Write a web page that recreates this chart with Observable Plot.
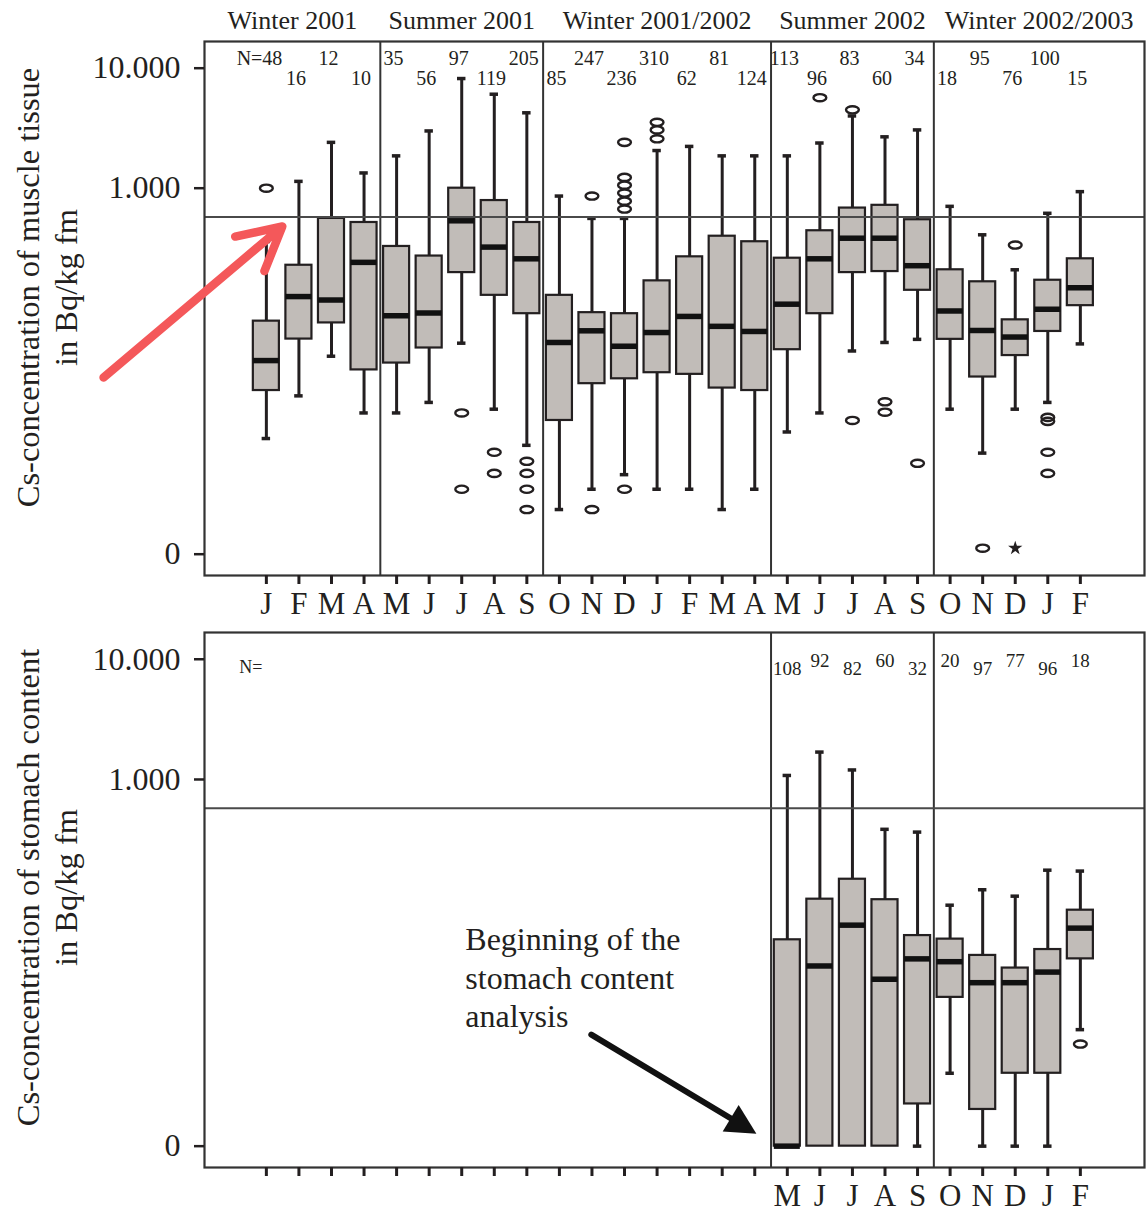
<!DOCTYPE html>
<html><head><meta charset="utf-8">
<script src="https://cdn.jsdelivr.net/npm/d3@7"></script>
<script src="https://cdn.jsdelivr.net/npm/@observablehq/plot@0.6"></script>
<style>
body{margin:0;background:#fff;}
#chart{width:1148px;}
#chart svg{display:block;overflow:visible;}
</style></head><body><div id="chart"></div>
<script>
// ---------------- data ----------------
const months = ["J","F","M","A","M","J","J","A","S","O","N","D","J","F","M","A","M","J","J","A","S","O","N","D","J","F"];
const seasonNames = ["Winter 2001","Summer 2001","Winter 2001/2002","Summer 2002","Winter 2002/2003"];
const seasonFirst = [0,4,9,16,21];
const seasonLast  = [3,8,15,20,25];

// muscle tissue (Bq/kg fm), one box per month
const muscleN      = [48,16,12,10,35,56,97,119,205,85,247,236,310,62,81,124,113,96,83,60,34,18,95,76,100,15];
const muscleLow    = [0.0082,0.0186,0.0398,0.0134,0.0134,0.0164,0.0511,0.0144,0.0072,0.0021,0.0031,0.0041,0.0031,0.0031,0.0021,0.0031,0.0093,0.0134,0.044,0.0518,0.055,0.0144,0.0062,0.0144,0.0164,0.0504];
const muscleQ1     = [0.0206,0.0553,0.0754,0.0306,0.0349,0.0466,0.198,0.128,0.09,0.0116,0.0235,0.0258,0.029,0.0281,0.0216,0.0206,0.0451,0.09,0.198,0.202,0.141,0.055,0.0267,0.0403,0.064,0.105];
const muscleMedian = [0.0366,0.125,0.117,0.241,0.0865,0.0912,0.535,0.323,0.258,0.0518,0.0648,0.0482,0.0627,0.0854,0.0706,0.064,0.108,0.258,0.383,0.383,0.226,0.0948,0.0652,0.0575,0.098,0.148];
const muscleQ3     = [0.078,0.228,0.56,0.518,0.327,0.272,1.0,0.789,0.518,0.128,0.0918,0.09,0.169,0.268,0.398,0.358,0.261,0.442,0.683,0.72,0.546,0.209,0.166,0.08,0.171,0.258];
const muscleHigh   = [0.36,1.14,2.41,1.34,1.86,3.0,8.2,6.07,4.25,0.86,0.56,0.56,2.06,2.23,1.86,1.86,1.86,2.38,4.0,2.68,3.06,0.706,0.409,0.209,0.618,0.936];
const muscleOutlierMonth = [0,6,6,7,7,8,8,8,8,10,10,11,11,11,11,11,11,11,12,12,12,17,18,18,19,19,20,22,23,24,24,24,24];
const muscleOutlierValue = [1.0,0.0134,0.0031,0.0063,0.0042,0.0053,0.0042,0.0031,0.0021,0.86,0.0021,2.41,1.23,1.06,0.91,0.78,0.67,0.0031,3.54,3.06,2.58,5.68,4.5,0.0116,0.0166,0.0136,0.0051,0.001,0.336,0.0123,0.0114,0.0063,0.0042];
const muscleExtremeMonth = [23];
const muscleExtremeValue = [0.001];

// stomach content (Bq/kg fm), analysed from May 2002 on
const stomachMonth  = [16,17,18,19,20,21,22,23,24,25];
const stomachN      = [108,92,82,60,32,20,97,77,96,18];
const stomachLow    = [0,0,0,0,0,0.0036,0,0,0,0.0083];
const stomachQ1     = [0,0,0,0,0.002,0.0154,0.0018,0.0036,0.0036,0.0322];
const stomachMedian = [0,0.0281,0.0614,0.0218,0.0322,0.0305,0.0204,0.0204,0.025,0.058];
const stomachQ3     = [0.0464,0.101,0.148,0.1,0.0503,0.047,0.0344,0.027,0.0385,0.0818];
const stomachHigh   = [1.08,1.69,1.2,0.385,0.365,0.09,0.121,0.107,0.176,0.173];
const stomachOutlierMonth = [25];
const stomachOutlierValue = [0.0063];

const limitValue = 0.575;                 // horizontal reference line
const yTickValues = [0, 1, 10];
const yTickLabels = ["0", "1.000", "10.000"];
const zeroFloor = Math.pow(10, -3.05);    // where "0" sits on the log axis

// annotations (month index, concentration)
const redArrow   = {x1: -5.0, y1: 0.0265, x2: 0.49, y2: 0.48};
const blackArrow = {x1: 9.98, y1: 0.00755, x2: 15.05, y2: 0.00113};
const noteText = "Beginning of the\nstomach content\nanalysis";
const notePos = {x: 6.11, y: 0.023};

// ---------------- helpers ----------------
const pos = v => (v <= 0 ? zeroFloor : v);
const ink = "#231f20";
const boxFill = "#c1bcb8";
const font = "'Liberation Serif','Times New Roman',serif";
const xDomain = [-1.9, 26.97];
const yDomain = [Math.pow(10, -3.2275), Math.pow(10, 1.2225)];
const dividers = [3.5, 8.5, 15.5, 20.5];
const bounds = [xDomain[0], ...dividers, xDomain[1]];
const seasonRows = seasonNames.map((name, k) => ({name, c: (bounds[k] + bounds[k + 1]) / 2}));
const yTickRows = yTickValues.map((v, k) => ({y: pos(v), label: yTickLabels[k]}));

const ellipse = {draw(ctx) {
  const rx = 6.4, ry = 3.6, k = 0.5523;
  ctx.moveTo(rx, 0);
  ctx.bezierCurveTo(rx, ry * k, rx * k, ry, 0, ry);
  ctx.bezierCurveTo(-rx * k, ry, -rx, ry * k, -rx, 0);
  ctx.bezierCurveTo(-rx, -ry * k, -rx * k, -ry, 0, -ry);
  ctx.bezierCurveTo(rx * k, -ry, rx, -ry * k, rx, 0);
  ctx.closePath();
}};
const headAngle = 31 * Math.PI / 180;
const triHead = {draw(ctx) {
  const L = 30, W = 31, ux = Math.cos(headAngle), uy = Math.sin(headAngle);
  const bx = -L * ux, by = -L * uy;
  ctx.moveTo(0, 0);
  ctx.lineTo(bx - uy * W / 2, by + ux * W / 2);
  ctx.lineTo(bx + uy * W / 2, by - ux * W / 2);
  ctx.closePath();
}};

function makeRows(idx, n, low, q1, med, q3, high) {
  return idx.map((i, k) => ({i, n: n[k], low: pos(low[k]), q1: pos(q1[k]), med: pos(med[k]), q3: pos(q3[k]), high: pos(high[k])}));
}
function boxMarks(rows, outliers, extremes) {
  const hw = 0.4, cw = 0.13;
  return [
    Plot.ruleX(rows.filter(d => d.high > d.q3), {x: "i", y1: "q3", y2: "high", stroke: ink, strokeWidth: 3}),
    Plot.ruleX(rows.filter(d => d.low < d.q1), {x: "i", y1: "low", y2: "q1", stroke: ink, strokeWidth: 3}),
    Plot.ruleY(rows.filter(d => d.high > d.q3), {y: "high", x1: d => d.i - cw, x2: d => d.i + cw, stroke: ink, strokeWidth: 3.5}),
    Plot.ruleY(rows.filter(d => d.low < d.q1), {y: "low", x1: d => d.i - cw, x2: d => d.i + cw, stroke: ink, strokeWidth: 3.5}),
    Plot.rect(rows, {x1: d => d.i - hw, x2: d => d.i + hw, y1: "q1", y2: "q3", fill: boxFill, stroke: ink, strokeWidth: 2.2}),
    Plot.ruleY(rows, {y: "med", x1: d => d.i - hw, x2: d => d.i + hw, stroke: "#111", strokeWidth: 5.5}),
    Plot.ruleY([limitValue], {stroke: "#4a4a4a", strokeWidth: 2}),
    Plot.dot(outliers, {x: "i", y: "v", symbol: ellipse, fill: "none", stroke: ink, strokeWidth: 2.4}),
    Plot.dot(extremes, {x: "i", y: "v", symbol: "star", r: 4.5, fill: ink, stroke: "none"})
  ];
}
function axes(labelFn) {
  return [
    Plot.frame({stroke: "#333", strokeWidth: 2.2}),
    Plot.axisY({ticks: yTickRows.map(d => d.y), tickFormat: () => "", tickSize: 10, strokeWidth: 2.5, stroke: ink, label: null}),
    Plot.text(yTickRows, {y: "y", text: "label", frameAnchor: "left", textAnchor: "end", lineAnchor: "middle", dx: -24, fontSize: 32, fill: ink}),
    Plot.axisX({ticks: d3.range(months.length), tickFormat: labelFn, tickSize: 9, tickPadding: 7,
      fontSize: 31, strokeWidth: 3, stroke: ink, color: ink, label: null})
  ];
}
function yTitle(line1, line2, centerShift, frameLeft) {
  return [
    Plot.text([line1], {frameAnchor: "left", rotate: -90, dx: 28 - frameLeft, dy: centerShift, fontSize: 32.5, textAnchor: "middle", lineAnchor: "middle", fill: ink}),
    Plot.text([line2], {frameAnchor: "left", rotate: -90, dx: 66 - frameLeft, dy: centerShift, fontSize: 32.5, textAnchor: "middle", lineAnchor: "middle", fill: ink})
  ];
}
const topText = (data, o) => Plot.text(data, {frameAnchor: "top", lineAnchor: "middle", fill: ink, ...o});

// ---------------- top panel: muscle tissue ----------------
const mRows = makeRows(d3.range(26), muscleN, muscleLow, muscleQ1, muscleMedian, muscleQ3, muscleHigh);
const mOut = muscleOutlierMonth.map((i, k) => ({i, v: pos(muscleOutlierValue[k])}));
const mExt = muscleExtremeMonth.map((i, k) => ({i, v: pos(muscleExtremeValue[k])}));

const topPlot = Plot.plot({
  width: 1148, height: 620,
  marginLeft: 204, marginRight: 4, marginTop: 41, marginBottom: 45,
  style: {fontFamily: font, color: ink, background: "white", overflow: "visible"},
  x: {type: "linear", domain: xDomain, axis: null},
  y: {type: "log", domain: yDomain, axis: null},
  marks: [
    Plot.ruleX(dividers, {x: d => d, stroke: "#333", strokeWidth: 2}),
    ...boxMarks(mRows, mOut, mExt),
    ...axes(i => months[i]),
    topText(seasonRows, {x: "c", text: "name", dy: -21, fontSize: 26}),
    topText(mRows.filter(d => d.i % 2 === 0 && d.i > 0), {x: "i", text: d => String(d.n), dy: 17, dx: -3, fontSize: 20, letterSpacing: -1}),
    topText(mRows.filter(d => d.i === 0), {x: "i", text: d => "N=" + d.n, dy: 17, dx: 16, textAnchor: "end", fontSize: 20, letterSpacing: -1}),
    topText(mRows.filter(d => d.i % 2 === 1), {x: "i", text: d => String(d.n), dy: 37, dx: -3, fontSize: 20, letterSpacing: -1}),
    ...yTitle("Cs-concentration of muscle tissue", "in Bq/kg fm", 287 - 308, 204),
    Plot.arrow([redArrow], {x1: "x1", y1: "y1", x2: "x2", y2: "y2", stroke: "#f4585a", strokeWidth: 8.5, headLength: 8.5, headAngle: 56})
  ]
});

// ---------------- bottom panel: stomach content ----------------
const sRows = makeRows(stomachMonth, stomachN, stomachLow, stomachQ1, stomachMedian, stomachQ3, stomachHigh);
const sOut = stomachOutlierMonth.map((i, k) => ({i, v: pos(stomachOutlierValue[k])}));

const bottomPlot = Plot.plot({
  width: 1148, height: 592,
  marginLeft: 204, marginRight: 4, marginTop: 12, marginBottom: 45,
  style: {fontFamily: font, color: ink, background: "white", overflow: "visible"},
  x: {type: "linear", domain: xDomain, axis: null},
  y: {type: "log", domain: yDomain, axis: null},
  marks: [
    Plot.ruleX([15.5, 20.5], {x: d => d, stroke: "#333", strokeWidth: 2}),
    ...boxMarks(sRows, sOut, []),
    ...axes(i => (i >= stomachMonth[0] ? months[i] : "")),
    topText(["N="], {x: 0, dy: 35, dx: -4, textAnchor: "end", fontSize: 18}),
    topText(sRows.filter((d, k) => k % 2 === 0), {x: "i", text: d => String(d.n), dy: 36, fontSize: 19, letterSpacing: -1}),
    topText(sRows.filter((d, k) => k % 2 === 1), {x: "i", text: d => String(d.n), dy: 28, fontSize: 19, letterSpacing: -1}),
    ...yTitle("Cs-concentration of stomach content", "in Bq/kg fm", 887 - 899.5, 204),
    Plot.text([noteText], {x: notePos.x, y: notePos.y, textAnchor: "start", lineAnchor: "middle", lineHeight: 1.2, fontSize: 32, fill: ink}),
    Plot.arrow([blackArrow], {x1: "x1", y1: "y1", x2: "x2", y2: "y2", stroke: "#111", strokeWidth: 6, headLength: 0, insetEnd: 16}),
    Plot.dot([blackArrow], {x: "x2", y: "y2", symbol: triHead, fill: "#111", stroke: "none"})
  ]
});

document.getElementById("chart").append(topPlot, bottomPlot);
</script></body></html>
